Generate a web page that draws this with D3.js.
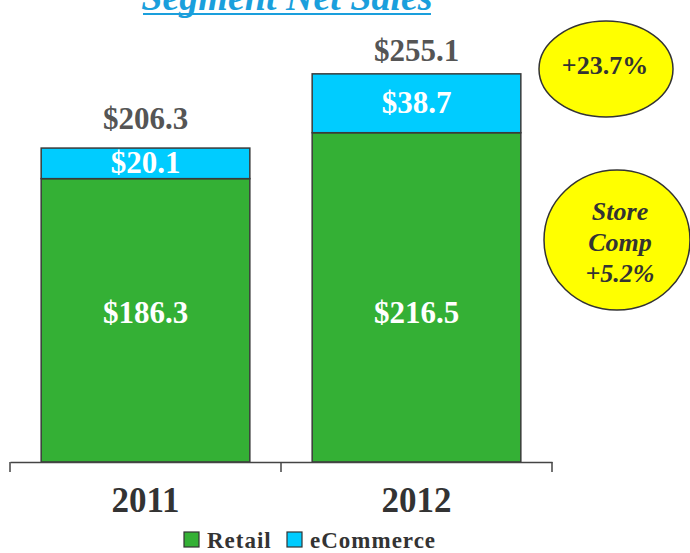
<!DOCTYPE html>
<html>
<head>
<meta charset="utf-8">
<script src="https://cdn.jsdelivr.net/npm/d3@7"></script>
<style>
  body { margin: 0; background: #fff; }
  svg text { font-family: "Liberation Serif", "Times New Roman", serif; font-weight: bold; }
</style>
</head>
<body>
<div id="chart"></div>
<script>
// data
const years = ["2011", "2012"];
const retail = [186.3, 216.5];
const ecommerce = [20.1, 38.7];
const totals = [206.3, 255.1];
const seriesNames = ["Retail", "eCommerce"];
const colors = ["#34b035", "#00ccff"];
const bubbleGrowth = ["+23.7%"];
const bubbleComp = ["Store", "Comp", "+5.2%"];

const width = 690, height = 553;
const svg = d3.select("#chart").append("svg")
    .attr("width", width)
    .attr("height", height);

let x = d3.scaleBand()
    .domain(years)
    .range([10, 552])
    .padding(0);
let y = d3.scaleLinear()
    .domain([0, 255.1])
    .range([462, 74]);

let barW = x.bandwidth() * 0.77;
let stackData = years.map((yr, i) => ({year: yr, values: [retail[i], ecommerce[i]], total: totals[i]}));
let stack = d3.stack().keys([0, 1]).value((d, k) => d.values[k]);
let layers = stack(stackData);

// title, mostly cut off at the top
svg.append("text")
    .text("Segment Net Sales")
    .attr("x", 287)
    .attr("y", 10)
    .attr("text-anchor", "middle")
    .attr("fill", "#1a9fdc")
    .style("font-style", "italic")
    .style("font-size", "38px");
svg.append("line")
    .attr("x1", 143).attr("x2", 431)
    .attr("y1", 14).attr("y2", 14)
    .attr("stroke", "#1a9fdc")
    .attr("stroke-width", 2);

// bars
layers.forEach((layer, k) => {
    svg.selectAll(".bar" + k)
        .data(layer)
        .join("rect")
        .attr("class", "bar" + k)
        .attr("x", d => x(d.data.year) + (x.bandwidth() - barW) / 2)
        .attr("width", barW)
        .attr("y", d => y(d[1]))
        .attr("height", d => y(d[0]) - y(d[1]))
        .attr("fill", colors[k])
        .attr("stroke", "#3a3a3a")
        .attr("stroke-width", 1.5);
});

// retail labels sit on one line, ecommerce labels centred in their segment
svg.selectAll(".lab0")
    .data(layers[0])
    .join("text")
    .attr("class", "lab0")
    .text(d => "$" + (d[1] - d[0]).toFixed(1))
    .attr("x", d => x(d.data.year) + x.bandwidth() / 2)
    .attr("y", 323)
    .attr("text-anchor", "middle")
    .attr("fill", "#fff")
    .style("font-size", "31px");
svg.selectAll(".lab1")
    .data(layers[1])
    .join("text")
    .attr("class", "lab1")
    .text(d => "$" + (d[1] - d[0]).toFixed(1))
    .attr("x", d => x(d.data.year) + x.bandwidth() / 2)
    .attr("y", d => (y(d[0]) + y(d[1])) / 2 + 10)
    .attr("text-anchor", "middle")
    .attr("fill", "#fff")
    .style("font-size", "31px");

// totals
let totalGap = [19, 13];
svg.selectAll(".total")
    .data(stackData)
    .join("text")
    .attr("class", "total")
    .text(d => "$" + d.total.toFixed(1))
    .attr("x", d => x(d.year) + x.bandwidth() / 2)
    .attr("y", (d, i) => y(d.total) - totalGap[i])
    .attr("text-anchor", "middle")
    .attr("fill", "#555")
    .style("font-size", "31px");

// axis
let axis = svg.append("g")
    .attr("transform", "translate(0,462)")
    .call(d3.axisBottom(x).tickSize(0).tickFormat(""));
axis.select(".domain").attr("stroke", "#444").attr("stroke-width", 1.5);
let edges = [10, 10 + x.bandwidth(), 552];
axis.selectAll(".edge")
    .data(edges)
    .join("line")
    .attr("class", "edge")
    .attr("x1", d => d).attr("x2", d => d)
    .attr("y1", 0).attr("y2", 10)
    .attr("stroke", "#444")
    .attr("stroke-width", 1.5);

svg.selectAll(".year")
    .data(years)
    .join("text")
    .attr("class", "year")
    .text(d => d)
    .attr("x", d => x(d) + x.bandwidth() / 2)
    .attr("y", 512)
    .attr("text-anchor", "middle")
    .attr("fill", "#333")
    .style("font-size", "35px");

// legend
let legendX = [184, 287];
seriesNames.forEach((name, i) => {
    svg.append("rect")
        .attr("x", legendX[i]).attr("y", 532)
        .attr("width", 15).attr("height", 15)
        .attr("fill", colors[i])
        .attr("stroke", "#333")
        .attr("stroke-width", 1.2);
    svg.append("text")
        .text(name)
        .attr("x", legendX[i] + 23)
        .attr("y", 548)
        .attr("fill", "#333")
        .style("font-size", "23px")
        .style("letter-spacing", "1px");
});

// bubbles
svg.append("ellipse")
    .attr("cx", 606).attr("cy", 69)
    .attr("rx", 67).attr("ry", 48)
    .attr("fill", "#ffff00")
    .attr("stroke", "#333")
    .attr("stroke-width", 1.5);
svg.append("text")
    .text(bubbleGrowth[0])
    .attr("x", 605).attr("y", 74)
    .attr("text-anchor", "middle")
    .attr("fill", "#333")
    .style("font-size", "26px");

svg.append("ellipse")
    .attr("cx", 617).attr("cy", 240)
    .attr("rx", 73).attr("ry", 70)
    .attr("fill", "#ffff00")
    .attr("stroke", "#333")
    .attr("stroke-width", 1.5);
svg.selectAll(".comp")
    .data(bubbleComp)
    .join("text")
    .attr("class", "comp")
    .text(d => d)
    .attr("x", 620)
    .attr("y", (d, i) => 220 + i * 31)
    .attr("text-anchor", "middle")
    .attr("fill", "#333")
    .style("font-style", "italic")
    .style("font-size", "26px");
</script>
</body>
</html>
